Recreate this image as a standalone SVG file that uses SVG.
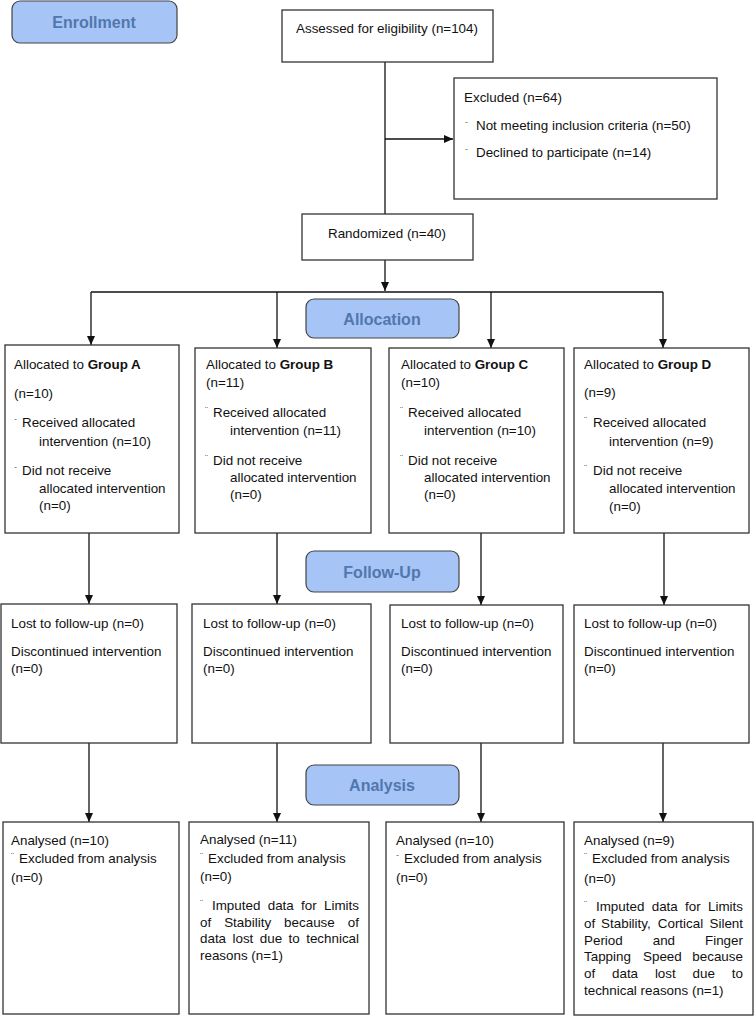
<svg xmlns="http://www.w3.org/2000/svg" width="754" height="1016" viewBox="0 0 754 1016">
<defs>
<marker id="ah" markerUnits="userSpaceOnUse" markerWidth="10" markerHeight="10" refX="9" refY="5" orient="auto">
<path d="M0,1 L9,5 L0,9 Z" fill="#111"/>
</marker>
<style>
.box{fill:#fff;stroke:#333;stroke-width:1.3}
.lab{fill:#a6c4f5;stroke:#444;stroke-width:1.2}
.labt{font-family:"Liberation Sans",Arial,sans-serif;font-size:16px;font-weight:bold;fill:#5177ad;text-anchor:middle}
.t{font-family:"Liberation Sans",Arial,sans-serif;font-size:13.4px;fill:#111}
.b{font-weight:bold}
.bl{font-family:"Liberation Sans",Arial,sans-serif;font-size:9px;fill:#666}
.ln{fill:none;stroke:#111;stroke-width:1.3}
</style>
</defs>
<rect width="754" height="1016" fill="#fff"/>

<g id="label-enrollment"><rect class="lab" x="12" y="1" width="165" height="42" rx="8"/><text class="labt" x="94" y="28">Enrollment</text></g>
<g id="label-allocation"><rect class="lab" x="306" y="299" width="153" height="39" rx="8"/><text class="labt" x="382" y="325">Allocation</text></g>
<g id="label-followup"><rect class="lab" x="306" y="551" width="153" height="41" rx="8"/><text class="labt" x="382" y="578">Follow-Up</text></g>
<g id="label-analysis"><rect class="lab" x="306" y="765" width="153" height="40" rx="8"/><text class="labt" x="382" y="791">Analysis</text></g>

<g id="connectors">
<path class="ln" d="M385,62 V214"/>
<path class="ln" d="M385,139 H453" marker-end="url(#ah)"/>
<path class="ln" d="M385,260 V291" marker-end="url(#ah)"/>
<path class="ln" d="M91,292 H663"/>
<path class="ln" d="M91,292 V345" marker-end="url(#ah)"/>
<path class="ln" d="M277,292 V348" marker-end="url(#ah)"/>
<path class="ln" d="M491,292 V348" marker-end="url(#ah)"/>
<path class="ln" d="M663,292 V348" marker-end="url(#ah)"/>
<path class="ln" d="M89,533 V604" marker-end="url(#ah)"/>
<path class="ln" d="M277,533 V604" marker-end="url(#ah)"/>
<path class="ln" d="M481,533 V605" marker-end="url(#ah)"/>
<path class="ln" d="M664,533 V605" marker-end="url(#ah)"/>
<path class="ln" d="M89,743 V822" marker-end="url(#ah)"/>
<path class="ln" d="M277,743 V822" marker-end="url(#ah)"/>
<path class="ln" d="M481,743 V822" marker-end="url(#ah)"/>
<path class="ln" d="M663,743 V822" marker-end="url(#ah)"/>
</g>

<g id="assessed"><rect class="box" x="282" y="10" width="211" height="52"/><text class="t" x="296" y="33">Assessed for eligibility (n=104)</text></g>

<g id="excluded"><rect class="box" x="454" y="78" width="263" height="121"/>
<text class="t" x="464" y="102">Excluded (n=64)</text>
<text class="bl" x="465" y="125">-</text><text class="t" x="476" y="130">Not meeting inclusion criteria (n=50)</text>
<text class="bl" x="465" y="152">-</text><text class="t" x="476" y="157">Declined to participate (n=14)</text>
</g>

<g id="randomized"><rect class="box" x="302" y="214" width="171" height="46"/><text class="t" x="328" y="238">Randomized (n=40)</text></g>

<g id="group-a"><rect class="box" x="5" y="345" width="174" height="188"/>
<text class="t" x="14" y="369">Allocated to <tspan class="b">Group A</tspan></text>
<text class="t" x="14" y="398">(n=10)</text>
<text class="bl" x="14" y="422">-</text><text class="t" x="22" y="427">Received allocated</text>
<text class="t" x="39" y="446">intervention (n=10)</text>
<text class="bl" x="14" y="470">-</text><text class="t" x="22" y="475">Did not receive</text>
<text class="t" x="39" y="493">allocated intervention</text>
<text class="t" x="39" y="510">(n=0)</text>
</g>

<g id="group-b"><rect class="box" x="195" y="348" width="176" height="185"/>
<text class="t" x="206" y="369">Allocated to <tspan class="b">Group B</tspan></text>
<text class="t" x="206" y="387">(n=11)</text>
<text class="bl" x="205" y="413">¨</text><text class="t" x="213" y="417">Received allocated</text>
<text class="t" x="230" y="435">intervention (n=11)</text>
<text class="bl" x="205" y="461">¨</text><text class="t" x="213" y="465">Did not receive</text>
<text class="t" x="230" y="482">allocated intervention</text>
<text class="t" x="230" y="499">(n=0)</text>
</g>

<g id="group-c"><rect class="box" x="389" y="348" width="175" height="185"/>
<text class="t" x="401" y="369">Allocated to <tspan class="b">Group C</tspan></text>
<text class="t" x="401" y="387">(n=10)</text>
<text class="bl" x="400" y="413">¨</text><text class="t" x="408" y="417">Received allocated</text>
<text class="t" x="424" y="435">intervention (n=10)</text>
<text class="bl" x="400" y="461">¨</text><text class="t" x="408" y="465">Did not receive</text>
<text class="t" x="424" y="482">allocated intervention</text>
<text class="t" x="424" y="499">(n=0)</text>
</g>

<g id="group-d"><rect class="box" x="574" y="348" width="175" height="185"/>
<text class="t" x="584" y="369">Allocated to <tspan class="b">Group D</tspan></text>
<text class="t" x="584" y="397">(n=9)</text>
<text class="bl" x="584" y="423">¨</text><text class="t" x="593" y="427">Received allocated</text>
<text class="t" x="609" y="446">intervention (n=9)</text>
<text class="bl" x="584" y="471">¨</text><text class="t" x="593" y="475">Did not receive</text>
<text class="t" x="609" y="493">allocated intervention</text>
<text class="t" x="609" y="511">(n=0)</text>
</g>

<g id="followup-a"><rect class="box" x="1" y="604" width="176" height="139"/>
<text class="t" x="11" y="628">Lost to follow-up (n=0)</text>
<text class="t" x="11" y="656">Discontinued intervention</text>
<text class="t" x="11" y="673">(n=0)</text>
</g>
<g id="followup-b"><rect class="box" x="192" y="604" width="179" height="139"/>
<text class="t" x="203" y="628">Lost to follow-up (n=0)</text>
<text class="t" x="203" y="656">Discontinued intervention</text>
<text class="t" x="203" y="673">(n=0)</text>
</g>
<g id="followup-c"><rect class="box" x="390" y="605" width="173" height="138"/>
<text class="t" x="401" y="628">Lost to follow-up (n=0)</text>
<text class="t" x="401" y="656">Discontinued intervention</text>
<text class="t" x="401" y="673">(n=0)</text>
</g>
<g id="followup-d"><rect class="box" x="574" y="605" width="175" height="138"/>
<text class="t" x="584" y="628">Lost to follow-up (n=0)</text>
<text class="t" x="584" y="656">Discontinued intervention</text>
<text class="t" x="584" y="673">(n=0)</text>
</g>

<g id="analysis-a"><rect class="box" x="3" y="822" width="176" height="192"/>
<text class="t" x="11" y="845">Analysed (n=10)</text>
<text class="bl" x="11" y="859">¨</text><text class="t" x="19" y="863">Excluded from analysis</text>
<text class="t" x="11" y="882">(n=0)</text>
</g>

<g id="analysis-b"><rect class="box" x="189" y="822" width="180" height="192"/>
<text class="t" x="200" y="844">Analysed (n=11)</text>
<text class="bl" x="200" y="859">¨</text><text class="t" x="208" y="863">Excluded from analysis</text>
<text class="t" x="200" y="881">(n=0)</text>
<text class="bl" x="200" y="906">¨</text>
<text class="t" y="910"><tspan x="212">Imputed</tspan><tspan x="267.7">data</tspan><tspan x="301.1">for</tspan><tspan x="324">Limits</tspan></text>
<text class="t" y="927"><tspan x="200">of</tspan><tspan x="224.2">Stability</tspan><tspan x="284.1">because</tspan><tspan x="347.8">of</tspan></text>
<text class="t" y="943"><tspan x="200">data</tspan><tspan x="232.5">lost</tspan><tspan x="259.8">due</tspan><tspan x="288.6">to</tspan><tspan x="306.2">technical</tspan></text>
<text class="t" x="200" y="960">reasons (n=1)</text>
</g>

<g id="analysis-c"><rect class="box" x="386" y="822" width="178" height="192"/>
<text class="t" x="396" y="845">Analysed (n=10)</text>
<text class="bl" x="396" y="858">-</text><text class="t" x="404" y="863">Excluded from analysis</text>
<text class="t" x="396" y="882">(n=0)</text>
</g>

<g id="analysis-d"><rect class="box" x="574" y="822" width="179" height="193"/>
<text class="t" x="584" y="845">Analysed (n=9)</text>
<text class="bl" x="584" y="859">¨</text><text class="t" x="592" y="863">Excluded from analysis</text>
<text class="t" x="584" y="883">(n=0)</text>
<text class="bl" x="584" y="907">¨</text>
<text class="t" y="911"><tspan x="596">Imputed</tspan><tspan x="651.7">data</tspan><tspan x="685.1">for</tspan><tspan x="708">Limits</tspan></text>
<text class="t" y="928"><tspan x="584">of</tspan><tspan x="601.1">Stability,</tspan><tspan x="657.8">Cortical</tspan><tspan x="709.5">Silent</tspan></text>
<text class="t" y="945"><tspan x="584">Period</tspan><tspan x="652.7">and</tspan><tspan x="705">Finger</tspan></text>
<text class="t" y="961"><tspan x="584">Tapping</tspan><tspan x="643">Speed</tspan><tspan x="692.3">because</tspan></text>
<text class="t" y="978"><tspan x="584">of</tspan><tspan x="612">data</tspan><tspan x="654.9">lost</tspan><tspan x="692.6">due</tspan><tspan x="731.8">to</tspan></text>
<text class="t" x="584" y="995">technical reasons (n=1)</text>
</g>
</svg>
